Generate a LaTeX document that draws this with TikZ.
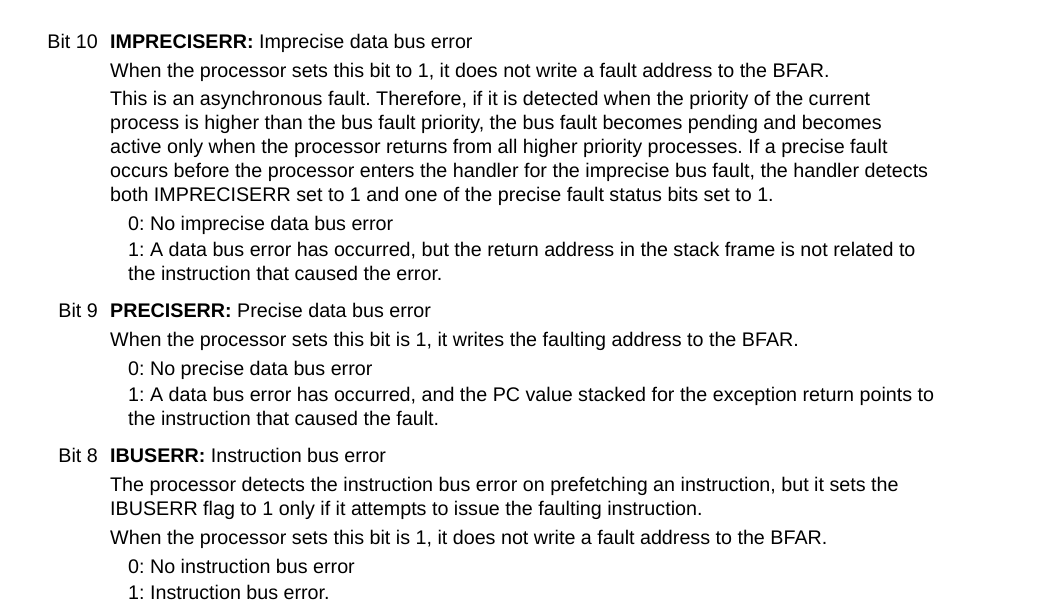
\documentclass[tikz,border=0pt]{standalone}
\usepackage{fontspec}
\setmainfont{Liberation Sans}
\usepackage{tikz}

\begin{document}
\frenchspacing
\begin{tikzpicture}[x=1pt,y=-1pt,
    bitno/.style={anchor=base east,inner sep=0pt,font=\fontsize{19.7}{23}\selectfont},
    txt/.style={anchor=base west,inner sep=0pt,font=\fontsize{19.7}{23}\selectfont},
    val/.style={txt}]
    \useasboundingbox[fill=white] (0,0) rectangle (1053,608);

    % bit 10
    \node[bitno] (b10) at (98,48) {Bit 10};
    \node[txt] (b10t) at (110,48) {\textbf{IMPRECISERR:} Imprecise data bus error};
    \node[txt] (b10a) at (110,77) {When the processor sets this bit to 1, it does not write a fault address to the BFAR.};
    \node[txt] (b10b) at (110,105) {This is an asynchronous fault. Therefore, if it is detected when the priority of the current};
    \node[txt] (b10c) at (110,129) {process is higher than the bus fault priority, the bus fault becomes pending and becomes};
    \node[txt] (b10d) at (110,153) {active only when the processor returns from all higher priority processes. If a precise fault};
    \node[txt] (b10e) at (110,177) {occurs before the processor enters the handler for the imprecise bus fault, the handler detects};
    \node[txt] (b10f) at (110,201) {both IMPRECISERR set to 1 and one of the precise fault status bits set to 1.};
    \node[val] (b10v0) at (128,230) {0: No imprecise data bus error};
    \node[val] (b10v1) at (128,256) {1: A data bus error has occurred, but the return address in the stack frame is not related to};
    \node[val] (b10v1b) at (128,280) {the instruction that caused the error.};

    % bit 9
    \node[bitno] (b9) at (98,317) {Bit 9};
    \node[txt] (b9t) at (110,317) {\textbf{PRECISERR:} Precise data bus error};
    \node[txt] (b9a) at (110,346) {When the processor sets this bit is 1, it writes the faulting address to the BFAR.};
    \node[val] (b9v0) at (128,375) {0: No precise data bus error};
    \node[val] (b9v1) at (128,401) {1: A data bus error has occurred, and the PC value stacked for the exception return points to};
    \node[val] (b9v1b) at (128,425) {the instruction that caused the fault.};

    % bit 8
    \node[bitno] (b8) at (98,462) {Bit 8};
    \node[txt] (b8t) at (110,462) {\textbf{IBUSERR:} Instruction bus error};
    \node[txt] (b8a) at (110,491) {The processor detects the instruction bus error on prefetching an instruction, but it sets the};
    \node[txt] (b8b) at (110,515) {IBUSERR flag to 1 only if it attempts to issue the faulting instruction.};
    \node[txt] (b8c) at (110,544) {When the processor sets this bit is 1, it does not write a fault address to the BFAR.};
    \node[val] (b8v0) at (128,573) {0: No instruction bus error};
    \node[val] (b8v1) at (128,599) {1: Instruction bus error.};
\end{tikzpicture}
\end{document}
